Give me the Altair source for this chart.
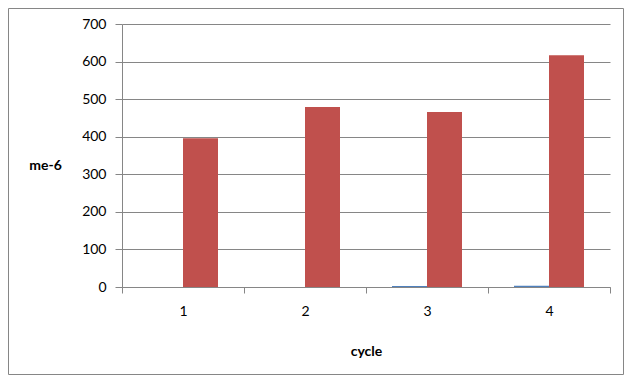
import altair as alt
import pandas as pd

cycles = ["1", "2", "3", "4"]
series_names = ["Series1", "Series2"]
blue_vals = [0, 0, 2.5, 3]
red_vals = [396, 479, 466, 617]
y_ticks = [0, 100, 200, 300, 400, 500, 600, 700]

rows = []
for c, b, r in zip(cycles, blue_vals, red_vals):
    rows.append({"cycle": c, "series": series_names[0], "value": b})
    rows.append({"cycle": c, "series": series_names[1], "value": r})
df = pd.DataFrame(rows)

GRAY = "#868686"
FONT = "Lato"

bars = alt.Chart(df).mark_bar().encode(
    x=alt.X(
        "cycle:N",
        sort=cycles,
        scale=alt.Scale(paddingInner=0, paddingOuter=0),
        axis=alt.Axis(
            title="cycle",
            labelAngle=0,
            grid=False,
            tickBand="extent",
            tickSize=6,
            tickColor=GRAY,
            domainColor=GRAY,
            labelPadding=11,
            labelFont=FONT,
            labelFontSize=14,
            labelColor="#000000",
            titleFont=FONT,
            titleFontSize=14,
            titleFontWeight="bold",
            titleColor="#000000",
            titleY=64,
            titleBaseline="middle",
        ),
    ),
    xOffset=alt.XOffset(
        "series:N",
        sort=series_names,
        scale=alt.Scale(paddingInner=0, paddingOuter=0.743),
    ),
    y=alt.Y(
        "value:Q",
        scale=alt.Scale(domain=[0, 700], nice=False),
        axis=alt.Axis(
            title="me-6",
            values=y_ticks,
            format="d",
            grid=True,
            gridColor=GRAY,
            domainColor=GRAY,
            tickColor=GRAY,
            tickSize=7,
            labelPadding=9,
            labelFont=FONT,
            labelFontSize=14,
            labelColor="#000000",
            titleFont=FONT,
            titleFontSize=14,
            titleFontWeight="bold",
            titleColor="#000000",
            titleAngle=0,
            titleAlign="center",
            titleBaseline="middle",
            titleX=-77,
            titleY=141,
        ),
    ),
    color=alt.Color(
        "series:N",
        scale=alt.Scale(domain=series_names, range=["#4F81BD", "#C0504D"]),
        legend=None,
    ),
)

border = alt.Chart(pd.DataFrame({"a": [0]})).mark_rect(
    fill="transparent", stroke=GRAY, strokeWidth=1
).encode(
    x=alt.value(-113.5),
    x2=alt.value(501.5),
    y=alt.value(-15.5),
    y2=alt.value(350.5),
)

chart = alt.layer(border, bars).properties(
    width=488,
    height=263,
    autosize="none",
    padding={"left": 114, "top": 16, "right": 15, "bottom": 89},
    background="white",
).configure_view(strokeWidth=0)

chart.save("out.html", embed_options={"renderer": "svg", "actions": False})
